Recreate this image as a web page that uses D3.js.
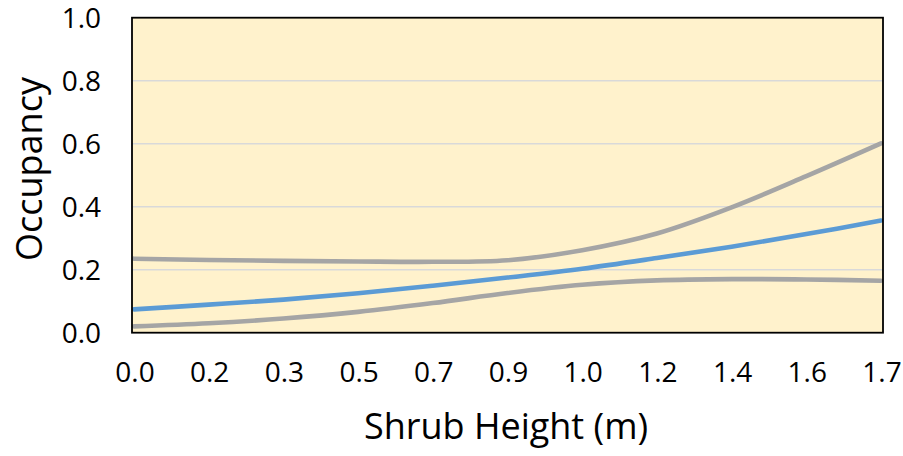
<!DOCTYPE html>
<html>
<head>
<meta charset="utf-8">
<script src="https://cdn.jsdelivr.net/npm/d3@7"></script>
<style>
  html, body { margin: 0; padding: 0; background: #ffffff; }
  svg { display: block; font-family: "Open Sans", "Noto Sans", sans-serif; }
</style>
</head>
<body>
<svg id="chart" width="903" height="456"></svg>
<script>
// ---- data ----
const xLabels = ["0.0", "0.2", "0.3", "0.5", "0.7", "0.9", "1.0", "1.2", "1.4", "1.6", "1.7"];
const yTicks = [0.0, 0.2, 0.4, 0.6, 0.8, 1.0];
const occupancy = [0.074, 0.089, 0.105, 0.125, 0.149, 0.175, 0.203, 0.237, 0.273, 0.313, 0.356];
const upperCI   = [0.235, 0.231, 0.228, 0.226, 0.225, 0.230, 0.262, 0.315, 0.398, 0.497, 0.601];
const lowerCI   = [0.020, 0.030, 0.045, 0.066, 0.094, 0.126, 0.152, 0.166, 0.170, 0.169, 0.165];

const svg = d3.select("#chart");
const plot = { left: 132, right: 883, top: 17.7, bottom: 332.7 };

const x = d3.scalePoint().domain(d3.range(xLabels.length)).range([134, 881]);
const y = d3.scaleLinear().domain([0, 1]).range([plot.bottom, plot.top]);

// background
svg.append("rect")
  .attr("x", plot.left).attr("y", plot.top)
  .attr("width", plot.right - plot.left).attr("height", plot.bottom - plot.top)
  .attr("fill", "#FFF2CC");

// gridlines
svg.append("g").selectAll("line")
  .data(yTicks.filter(d => d > 0 && d < 1))
  .join("line")
  .attr("x1", plot.left).attr("x2", plot.right)
  .attr("y1", d => y(d)).attr("y2", d => y(d))
  .attr("stroke", "#D9D9D9").attr("stroke-width", 1.5);

// lines
const line = d3.line()
  .x((d, i) => x(i))
  .y(d => y(d))
  .curve(d3.curveCatmullRom.alpha(0.5));

const series = [
  { values: upperCI, color: "#A5A5A5" },
  { values: lowerCI, color: "#A5A5A5" },
  { values: occupancy, color: "#5B9BD5" }
];
svg.append("g").selectAll("path")
  .data(series)
  .join("path")
  .attr("d", d => line(d.values))
  .attr("fill", "none")
  .attr("stroke", d => d.color)
  .attr("stroke-width", 4.6)
  .attr("stroke-linecap", "round")
  .attr("stroke-linejoin", "round");

// border
svg.append("rect")
  .attr("x", plot.left).attr("y", plot.top)
  .attr("width", plot.right - plot.left).attr("height", plot.bottom - plot.top)
  .attr("fill", "none").attr("stroke", "#000").attr("stroke-width", 1.8);

// y tick labels
svg.append("g").selectAll("text")
  .data(yTicks)
  .join("text")
  .attr("x", 101)
  .attr("y", d => y(d))
  .attr("dy", "0.35em")
  .attr("text-anchor", "end")
  .attr("font-size", 28)
  .attr("fill", "#000")
  .text(d => d3.format(".1f")(d));

// x tick labels
svg.append("g").selectAll("text")
  .data(xLabels)
  .join("text")
  .attr("x", (d, i) => x(i) + 1)
  .attr("y", 382)
  .attr("text-anchor", "middle")
  .attr("font-size", 28)
  .attr("fill", "#000")
  .text(d => d);

// axis titles
svg.append("text")
  .attr("x", 506).attr("y", 439)
  .attr("text-anchor", "middle")
  .attr("font-size", 36)
  .attr("fill", "#000")
  .text("Shrub Height (m)");

svg.append("text")
  .attr("transform", "translate(42,169) rotate(-90)")
  .attr("text-anchor", "middle")
  .attr("font-size", 36)
  .attr("fill", "#000")
  .text("Occupancy");
</script>
</body>
</html>
